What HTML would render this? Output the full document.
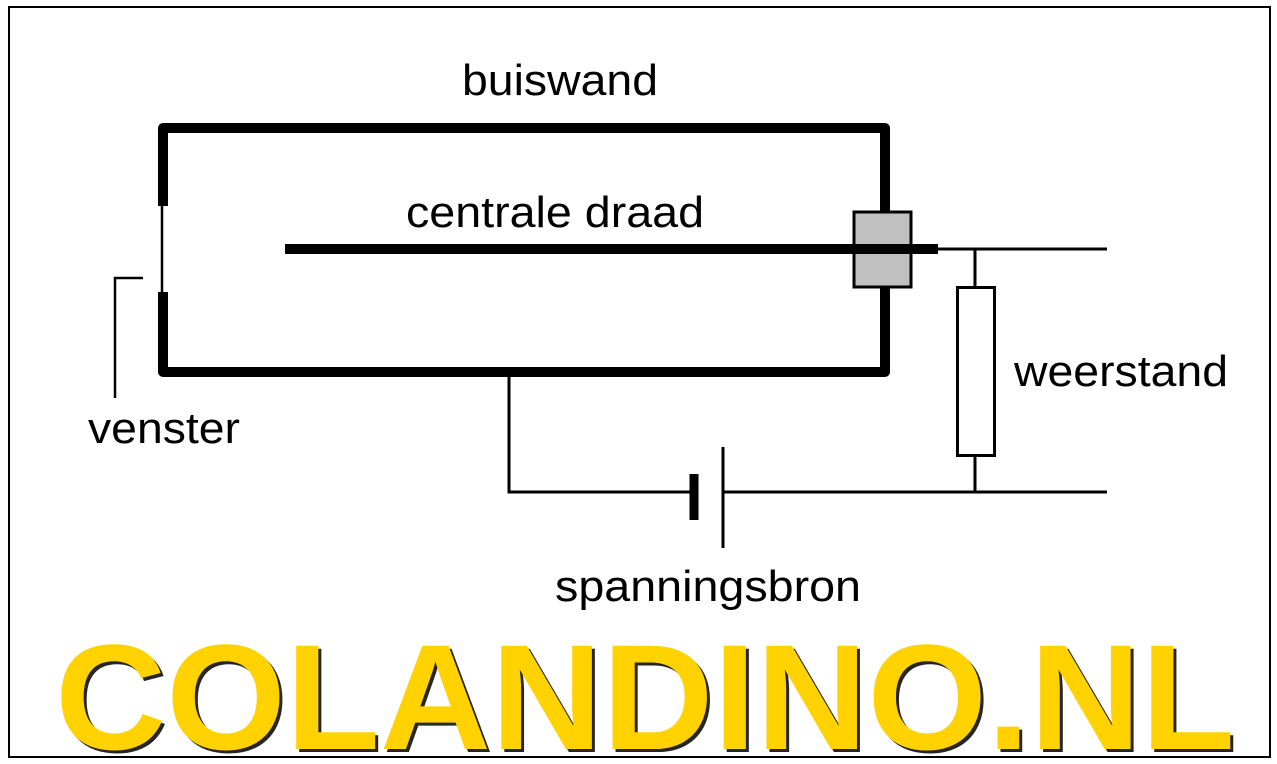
<!DOCTYPE html>
<html><head><meta charset="utf-8"><style>
html,body{margin:0;padding:0;background:#fff;}
svg{display:block;}
text{font-family:"Liberation Sans",sans-serif;}
</style></head><body>
<svg width="1277" height="764" viewBox="0 0 1277 764" xmlns="http://www.w3.org/2000/svg">
<rect x="9" y="7" width="1261" height="750" fill="#fff" stroke="#000" stroke-width="2"/>
<path d="M163 206 L163 128 L885 128 L885 372 L163 372 L163 292" fill="none" stroke="#000" stroke-width="10" stroke-linejoin="round"/>
<line x1="162" y1="206" x2="162" y2="292" stroke="#000" stroke-width="2.5"/>
<polyline points="143,278 115,278 115,398" fill="none" stroke="#000" stroke-width="2.5"/>
<rect x="854" y="212" width="57" height="75" fill="#c0c0c0" stroke="#000" stroke-width="3"/>
<line x1="285" y1="249" x2="938" y2="249" stroke="#000" stroke-width="10"/>
<line x1="936" y1="249" x2="1107" y2="249" stroke="#000" stroke-width="3"/>
<line x1="975" y1="249" x2="975" y2="492" stroke="#000" stroke-width="3"/>
<rect x="957.5" y="287.5" width="37" height="168" fill="#fff" stroke="#000" stroke-width="3"/>
<polyline points="509,372 509,492 694,492" fill="none" stroke="#000" stroke-width="3"/>
<line x1="723" y1="492" x2="1107" y2="492" stroke="#000" stroke-width="3"/>
<line x1="694" y1="474" x2="694" y2="520" stroke="#000" stroke-width="9"/>
<line x1="723" y1="447" x2="723" y2="548" stroke="#000" stroke-width="3"/>
<text x="462" y="95" font-size="44" textLength="196" lengthAdjust="spacingAndGlyphs">buiswand</text>
<text x="406" y="227" font-size="44" textLength="298" lengthAdjust="spacingAndGlyphs">centrale draad</text>
<text x="1014" y="386" font-size="44" textLength="214" lengthAdjust="spacingAndGlyphs">weerstand</text>
<text x="88" y="443" font-size="44" textLength="152" lengthAdjust="spacingAndGlyphs">venster</text>
<text x="555" y="601" font-size="44" textLength="306" lengthAdjust="spacingAndGlyphs">spanningsbron</text>
<text x="58" y="752" font-size="150" font-weight="bold" fill="#000" textLength="1180" lengthAdjust="spacingAndGlyphs" opacity="0.85">COLANDINO.NL</text>
<text x="55" y="749" font-size="150" font-weight="bold" fill="#ffd200" textLength="1180" lengthAdjust="spacingAndGlyphs">COLANDINO.NL</text>
</svg>
</body></html>
